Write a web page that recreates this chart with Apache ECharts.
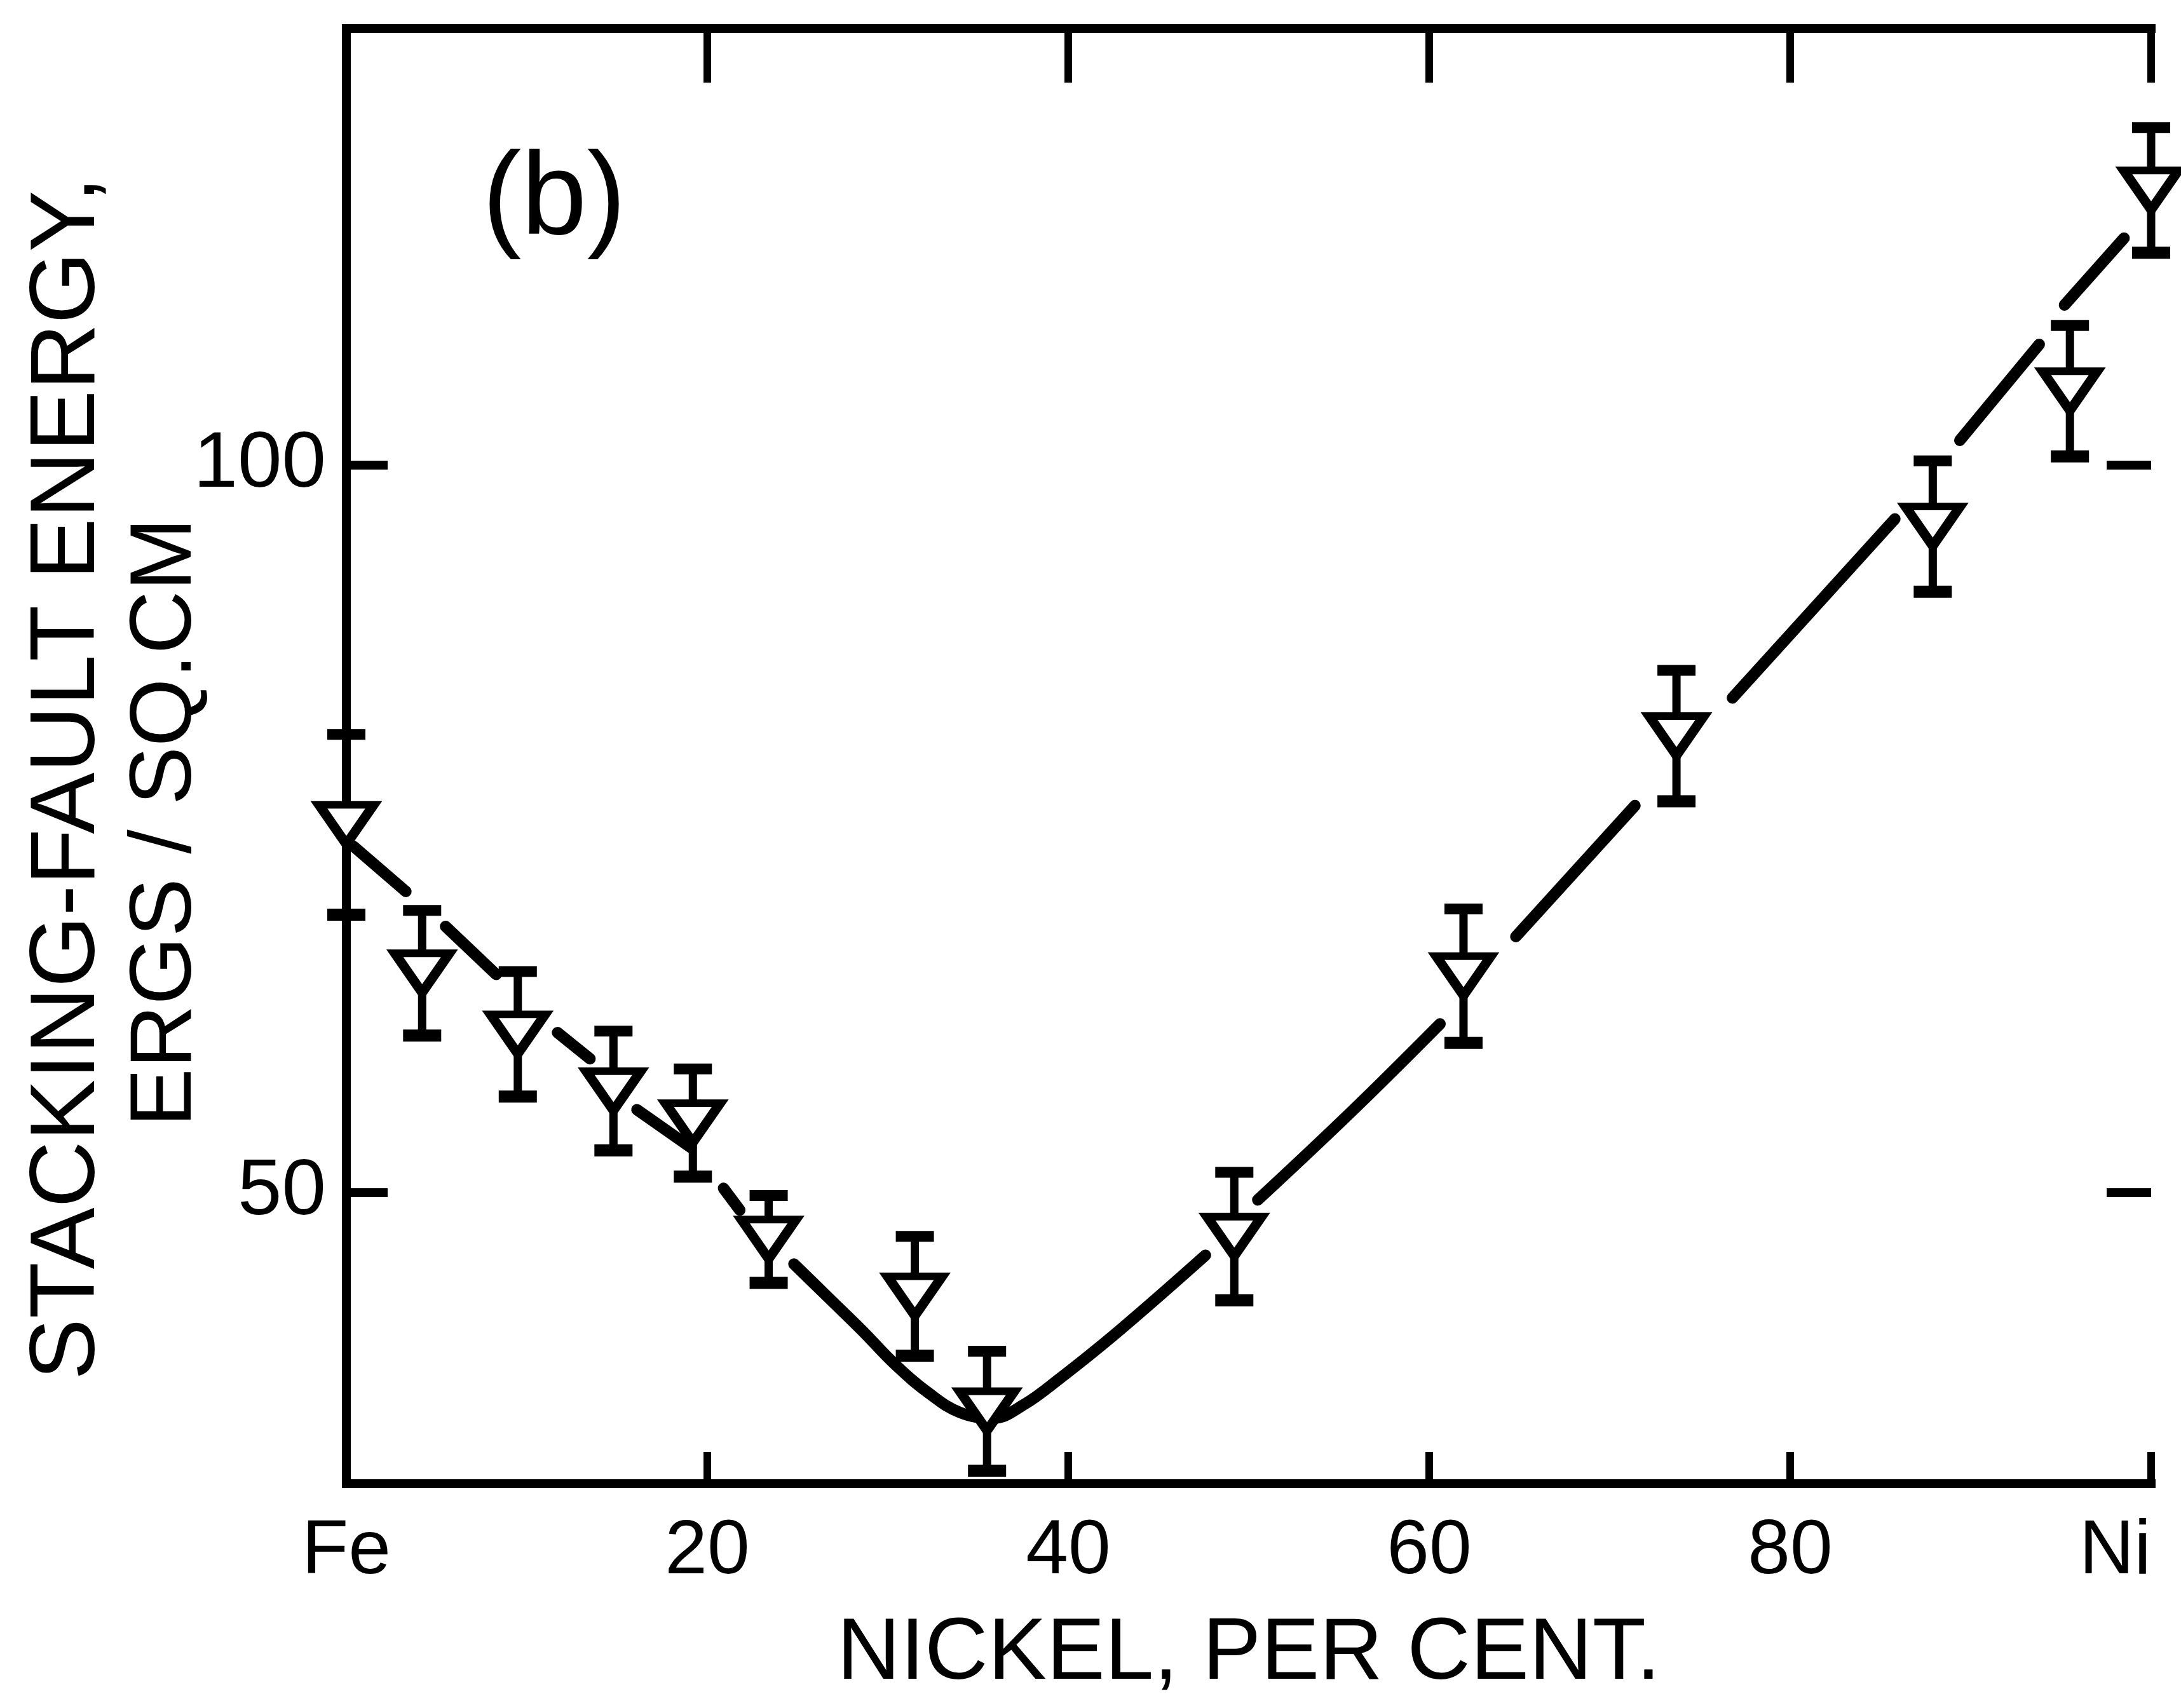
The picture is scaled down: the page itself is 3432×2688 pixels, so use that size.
<!DOCTYPE html>
<html>
<head>
<meta charset="utf-8">
<title>Stacking-fault energy vs nickel</title>
<script src="https://cdn.jsdelivr.net/npm/echarts@6/dist/echarts.min.js"></script>
<style>
  html, body { margin: 0; padding: 0; background: #fff; }
  #chart { width: 3432px; height: 2688px; }
</style>
</head>
<body>
<div id="chart"></div>
<script>
// measured points (nickel %, energy ergs/sq.cm) and half-length of error bars
const nickel = [0, 4.2, 9.5, 14.8, 19.2, 23.4, 31.5, 35.5, 49.2, 61.9, 73.7, 87.9, 95.5, 100];
const energy = [75.3, 65.1, 60.9, 57.0, 54.8, 46.8, 42.9, 35.0, 47.0, 64.9, 81.4, 95.8, 105.1, 118.9];
const errHalf = [6.2, 4.3, 4.3, 4.1, 3.7, 3.0, 4.1, 4.1, 4.4, 4.6, 4.5, 4.5, 4.5, 4.3];

// the drawn curve, broken where it meets the markers
const curveSegments = [
  [[0.4, 73.8], [3.3, 70.7]],
  [[5.5, 68.3], [8.3, 65.0]],
  [[11.7, 61.0], [13.5, 59.2]],
  [[16.1, 55.7], [19.1, 53.1]],
  [[20.9, 50.3], [21.8, 48.8]],
  [[24.8, 45.1], [26.7, 42.8], [28.6, 40.5], [30.4, 38.2], [32.3, 36.2], [34.0, 34.9],
   [35.8, 34.5], [37.5, 35.4], [39.5, 37.2], [42.8, 40.5], [47.6, 45.7]],
  [[50.5, 49.5], [55.8, 55.7], [60.6, 61.6]],
  [[64.8, 67.6], [71.4, 76.6]],
  [[76.8, 84.0], [85.8, 96.3]],
  [[89.4, 101.7], [93.8, 108.3]],
  [[95.2, 111.0], [98.5, 115.6]]
];

const xTickValues = [0, 20, 40, 60, 80, 100];
const xTickLabels = ['Fe', '20', '40', '60', '80', 'Ni'];
const yTickValues = [50, 100];

const FONT = '"Liberation Sans", Arial, sans-serif';
const INK = '#000';

const chart = echarts.init(document.getElementById('chart'));

function errorBar(params, api) {
  const x = api.value(0);
  const top = api.coord([x, api.value(2)]);
  const bot = api.coord([x, api.value(1)]);
  const half = 30;
  return {
    type: 'group',
    children: [
      { type: 'line', shape: { x1: top[0], y1: top[1], x2: bot[0], y2: bot[1] },
        style: { stroke: INK, lineWidth: 13 } },
      { type: 'line', shape: { x1: top[0] - half, y1: top[1], x2: top[0] + half, y2: top[1] },
        style: { stroke: INK, lineWidth: 17 } },
      { type: 'line', shape: { x1: bot[0] - half, y1: bot[1], x2: bot[0] + half, y2: bot[1] },
        style: { stroke: INK, lineWidth: 19 } }
    ]
  };
}

// inward ticks on the left and right frame at the labelled energies
function frameTicks(params, api) {
  const v = api.value(1);
  const l = api.coord([0, v]);
  const r = api.coord([100, v]);
  return {
    type: 'group',
    children: [
      { type: 'line', shape: { x1: l[0], y1: l[1], x2: l[0] + 65, y2: l[1] },
        style: { stroke: INK, lineWidth: 14 } },
      { type: 'line', shape: { x1: r[0] - 70, y1: r[1], x2: r[0], y2: r[1] },
        style: { stroke: INK, lineWidth: 14 } }
    ]
  };
}

const frameLine = { show: true, lineStyle: { color: INK, width: 14, cap: 'square' } };

const curveSeries = curveSegments.map(seg => ({
  type: 'line',
  data: seg,
  smooth: 0.4,
  symbol: 'none',
  z: 2,
  lineStyle: { color: INK, width: 18, cap: 'round' },
  silent: true
}));

chart.setOption({
  backgroundColor: '#fff',
  animation: false,
  grid: { left: 545, right: 47, top: 45, bottom: 353, outerBoundsMode: 'none' },
  xAxis: [
    {
      type: 'value', min: 0, max: 100, interval: 20, position: 'bottom',
      axisLine: frameLine,
      axisTick: { show: true, inside: true, length: 50, lineStyle: { color: INK, width: 12 } },
      axisLabel: {
        color: INK, fontFamily: FONT, fontSize: 120, margin: 48,
        alignMaxLabel: 'right',
        formatter: v => xTickLabels[xTickValues.indexOf(v)]
      },
      splitLine: { show: false },
      name: 'NICKEL, PER CENT.',
      nameLocation: 'middle',
      nameGap: 200,
      nameTextStyle: { color: INK, fontFamily: FONT, fontSize: 138 }
    },
    {
      type: 'value', min: 0, max: 100, interval: 20, position: 'top',
      axisLine: frameLine,
      axisTick: { show: true, inside: true, length: 85, lineStyle: { color: INK, width: 12 } },
      axisLabel: { show: false },
      splitLine: { show: false }
    }
  ],
  yAxis: [
    {
      type: 'value', min: 30, max: 130, position: 'left',
      axisLine: frameLine,
      axisTick: { show: false },
      axisLabel: { color: INK, fontFamily: FONT, fontSize: 125, margin: 32,
                   customValues: yTickValues },
      splitLine: { show: false }
    },
    {
      type: 'value', min: 30, max: 130, position: 'right',
      axisLine: frameLine,
      axisTick: { show: false },
      axisLabel: { show: false },
      splitLine: { show: false }
    }
  ],
  graphic: [
    {
      type: 'text', x: 108, y: 1225, rotation: Math.PI / 2,
      style: { text: 'STACKING-FAULT ENERGY,', fill: INK, fontFamily: FONT, fontSize: 145,
               align: 'center', verticalAlign: 'middle' }
    },
    {
      type: 'text', x: 262, y: 1294, rotation: Math.PI / 2,
      style: { text: 'ERGS / SQ.CM', fill: INK, fontFamily: FONT, fontSize: 138,
               align: 'center', verticalAlign: 'middle' }
    },
    {
      type: 'text', x: 872, y: 318,
      style: { text: '(b)', fill: INK, fontFamily: FONT, fontSize: 185,
               align: 'center', verticalAlign: 'middle' }
    }
  ],
  series: curveSeries.concat([
    {
      type: 'custom',
      renderItem: frameTicks,
      z: 3,
      silent: true,
      data: yTickValues.map(v => [0, v])
    },
    {
      type: 'custom',
      renderItem: errorBar,
      z: 3,
      silent: true,
      data: nickel.map((x, i) => [x, energy[i] - errHalf[i], energy[i] + errHalf[i]])
    },
    {
      type: 'scatter',
      z: 4,
      symbol: 'path://M0,0 L96,0 L48,70 Z',
      symbolSize: [86, 62],
      itemStyle: { color: '#fff', borderColor: INK, borderWidth: 14, opacity: 1 },
      data: nickel.map((x, i) => [x, energy[i]])
    }
  ])
});
</script>
</body>
</html>
